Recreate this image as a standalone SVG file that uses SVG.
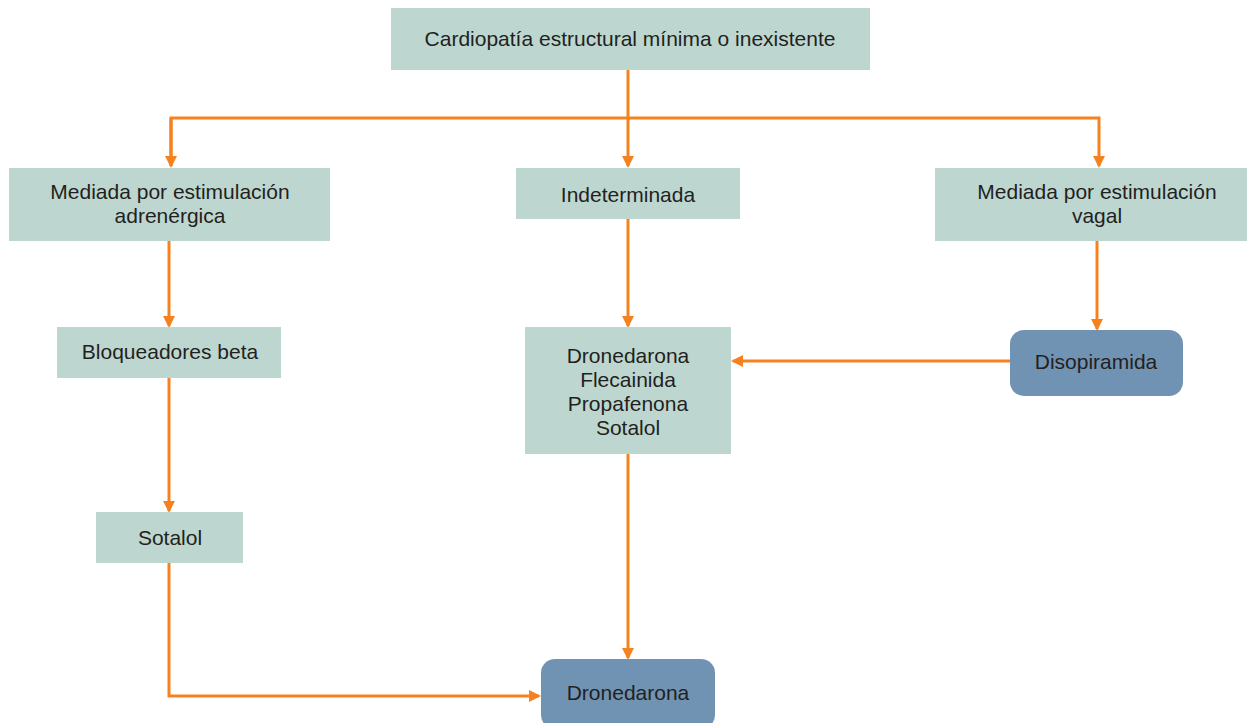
<svg xmlns="http://www.w3.org/2000/svg" width="1247" height="723" viewBox="0 0 1247 723">
<style>
.box{fill:#bdd7d0}
.rbox{fill:#7193b3}
text{font-family:"Liberation Sans",Arial,sans-serif;font-size:21px;fill:#231f20;text-anchor:middle}
.c{fill:none;stroke:#f6821f;stroke-width:3}
</style>
<defs>
<marker id="ah" markerWidth="12" markerHeight="12" refX="10" refY="6" orient="auto" markerUnits="userSpaceOnUse">
<path d="M0,0 L12,6 L0,12 Z" fill="#f6821f"/>
</marker>
</defs>
<rect width="1247" height="723" fill="#fff"/>
<g id="connectors">
<path class="c" d="M628,70 V166" marker-end="url(#ah)"/>
<path class="c" d="M171,166 V118 H1099 V166" marker-end="url(#ah)"/>
<path class="c" d="M171,118 V166" marker-end="url(#ah)"/>
<path class="c" d="M169,241 V326" marker-end="url(#ah)"/>
<path class="c" d="M169,378 V511" marker-end="url(#ah)"/>
<path class="c" d="M169,563 V696 H539" marker-end="url(#ah)"/>
<path class="c" d="M628,219 V326" marker-end="url(#ah)"/>
<path class="c" d="M628,454 V658" marker-end="url(#ah)"/>
<path class="c" d="M1097,241 V329" marker-end="url(#ah)"/>
<path class="c" d="M1010,361 H733" marker-end="url(#ah)"/>
</g>
<g id="n-top"><rect class="box" x="391" y="8" width="479" height="62"/><text x="630" y="46">Cardiopatía estructural mínima o inexistente</text></g>
<g id="n-adren"><rect class="box" x="9" y="168" width="321" height="73"/><text x="170" y="199">Mediada por estimulación</text><text x="170" y="223">adrenérgica</text></g>
<g id="n-indet"><rect class="box" x="516" y="168" width="224" height="51"/><text x="628" y="202">Indeterminada</text></g>
<g id="n-vagal"><rect class="box" x="935" y="168" width="312" height="73"/><text x="1097" y="199">Mediada por estimulación</text><text x="1097" y="223">vagal</text></g>
<g id="n-bloq"><rect class="box" x="57" y="327" width="224" height="51"/><text x="170" y="359">Bloqueadores beta</text></g>
<g id="n-sotalol"><rect class="box" x="96" y="512" width="147" height="51"/><text x="170" y="545">Sotalol</text></g>
<g id="n-list"><rect class="box" x="525" y="327" width="206" height="127"/>
<text x="628" y="363">Dronedarona</text><text x="628" y="387">Flecainida</text><text x="628" y="411">Propafenona</text><text x="628" y="435">Sotalol</text></g>
<g id="n-diso"><rect class="rbox" x="1010" y="330" width="173" height="66" rx="14"/><text x="1096" y="369">Disopiramida</text></g>
<g id="n-drone"><rect class="rbox" x="541" y="659" width="174" height="70" rx="14"/><text x="628" y="700">Dronedarona</text></g>
</svg>
